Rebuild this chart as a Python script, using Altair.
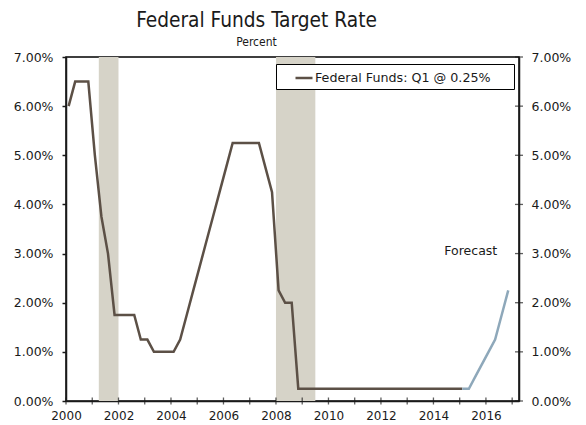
import altair as alt
import pandas as pd

# Quarterly federal funds target rate, percent (2000 Q1 - 2015 Q1)
actual_years = [y for y in range(2000, 2015) for _ in range(4)] + [2015]
actual_quarters = [1, 2, 3, 4] * 15 + [1]
actual_rate = [
    6.00, 6.50, 6.50, 6.50,
    5.00, 3.75, 3.00, 1.75,
    1.75, 1.75, 1.75, 1.25,
    1.25, 1.00, 1.00, 1.00,
    1.00, 1.25, 1.75, 2.25,
    2.75, 3.25, 3.75, 4.25,
    4.75, 5.25, 5.25, 5.25,
    5.25, 5.25, 4.75, 4.25,
    2.25, 2.00, 2.00, 0.25,
    0.25, 0.25, 0.25, 0.25,
    0.25, 0.25, 0.25, 0.25,
    0.25, 0.25, 0.25, 0.25,
    0.25, 0.25, 0.25, 0.25,
    0.25, 0.25, 0.25, 0.25,
    0.25, 0.25, 0.25, 0.25,
    0.25,
]

# Forecast path (2015 Q1 - 2016 Q4)
forecast_years = [2015, 2015, 2015, 2015, 2016, 2016, 2016, 2016]
forecast_quarters = [1, 2, 3, 4, 1, 2, 3, 4]
forecast_rate = [0.25, 0.25, 0.50, 0.75, 1.00, 1.25, 1.75, 2.25]

# Recession periods
recession_start = [2001.25, 2008.0]
recession_end = [2002.0, 2009.5]

series_name = "Federal Funds: Q1 @ 0.25%"
x_domain = [2000, 2017.26]
y_domain = [0, 7]
x_label_years = list(range(2000, 2017, 2))
x_tick_years = list(range(2000, 2018))
y_ticks = [0, 1, 2, 3, 4, 5, 6, 7]

note_text = ["Forecast"]
note_x = [2016.43]
note_y = [2.97]

QUARTER_SHIFT = 0.1  # plotting position within each quarter


def to_time(years, quarters):
    return [y + (q - 1) / 4 + QUARTER_SHIFT for y, q in zip(years, quarters)]


actual_df = pd.DataFrame({
    "t": to_time(actual_years, actual_quarters),
    "rate": actual_rate,
    "series": series_name,
})
forecast_df = pd.DataFrame({
    "t": to_time(forecast_years, forecast_quarters),
    "rate": forecast_rate,
})
recession_df = pd.DataFrame({"start": recession_start, "end": recession_end})
xticks_df = pd.DataFrame({"t": x_tick_years, "rate": [0] * len(x_tick_years)})
yticks_df = pd.DataFrame({"t": [x_domain[1]] * len(y_ticks), "rate": y_ticks})
note_df = pd.DataFrame({"t": note_x, "rate": note_y, "label": note_text})

FONT = "DejaVu Sans"
TITLE_FONT = "DejaVu Sans Condensed, Liberation Sans"
INK = "#1a1a1a"
BROWN = "#5c5046"
BLUE = "#8ea8ba"
BAND = "#d6d3c8"

x_scale = alt.Scale(domain=x_domain, nice=False, zero=False)
y_scale = alt.Scale(domain=y_domain, nice=False, zero=False)

pct_labels = "format(datum.value, '.2f') + '%'"

bands = alt.Chart(recession_df).mark_rect(color=BAND).encode(
    x=alt.X("start:Q", scale=x_scale, title=None,
            axis=alt.Axis(values=x_label_years, format="d", ticks=False,
                          grid=False, domainColor=INK, domainWidth=1.5,
                          labelFlush=False, labelOverlap=False,
                          labelFont=FONT, labelFontSize=12, labelColor=INK,
                          labelPadding=9)),
    x2="end:Q",
)

# blank braille cells keep some breathing room on the legend's right side
legend_pad = "\u2800\u2800"

actual = alt.Chart(actual_df).mark_line(strokeWidth=2.5).encode(
    x=alt.X("t:Q", scale=x_scale),
    y=alt.Y("rate:Q", scale=y_scale, title=None,
            axis=alt.Axis(orient="left", values=y_ticks, labelExpr=pct_labels,
                          grid=False, tickSize=4, tickColor=INK, tickWidth=1.5,
                          domainColor=INK, domainWidth=1.5,
                          labelFlush=False,
                          labelFont=FONT, labelFontSize=12.5, labelColor=INK,
                          labelPadding=9)),
    color=alt.Color("series:N",
                    scale=alt.Scale(domain=[series_name], range=[BROWN]),
                    legend=alt.Legend(
                        title=None, orient="none", legendX=210, legendY=7,
                        symbolType="stroke", symbolSize=289,
                        symbolStrokeWidth=2.5, symbolOffset=14,
                        labelOffset=1, labelLimit=400,
                        labelExpr="datum.label + '" + legend_pad + "'",
                        labelFont=FONT, labelFontSize=12.7, labelColor=INK,
                        padding=4, strokeColor="black", fillColor="white")),
)

forecast = alt.Chart(forecast_df).mark_line(strokeWidth=2.5, color=BLUE).encode(
    x=alt.X("t:Q", scale=x_scale),
    y=alt.Y("rate:Q", scale=y_scale, title=None,
            axis=alt.Axis(orient="right", values=y_ticks, labelExpr=pct_labels,
                          grid=False, ticks=False,
                          domainColor=INK, domainWidth=1.5,
                          labelFlush=False,
                          labelFont=FONT, labelFontSize=12.5, labelColor=INK,
                          labelPadding=12)),
)

# Tick marks that straddle the bottom and right axis lines
x_ticks = alt.Chart(xticks_df).mark_tick(
    orient="vertical", size=7, thickness=1.3, color=INK
).encode(
    x=alt.X("t:Q", scale=x_scale),
    y=alt.Y("rate:Q", scale=y_scale, axis=None),
)
y_ticks_right = alt.Chart(yticks_df).mark_tick(
    orient="horizontal", size=8, thickness=1.3, color=INK
).encode(
    x=alt.X("t:Q", scale=x_scale),
    y=alt.Y("rate:Q", scale=y_scale, axis=None),
)

note = alt.Chart(note_df).mark_text(
    align="right", baseline="alphabetic", font=FONT, fontSize=12.5, color=INK
).encode(
    x=alt.X("t:Q", scale=x_scale),
    y=alt.Y("rate:Q", scale=y_scale, axis=None),
    text="label:N",
)

chart = alt.layer(
    bands, actual, forecast, x_ticks, y_ticks_right, note
).resolve_axis(y="independent").properties(
    width=453,
    height=344,
    autosize="none",
    padding={"left": 66, "top": 57, "right": 67, "bottom": 24},
    title=alt.TitleParams(
        text="Federal Funds Target Rate",
        subtitle="Percent",
        font=TITLE_FONT, fontSize=20.7, fontWeight="normal", color=INK,
        subtitleFont=TITLE_FONT, subtitleFontSize=12, subtitleColor=INK,
        subtitlePadding=5, anchor="middle", dx=-36, offset=2,
    ),
).configure_view(
    stroke="black", strokeWidth=1.5
)

chart.save("out.html", embed_options={"renderer": "svg", "actions": False})
